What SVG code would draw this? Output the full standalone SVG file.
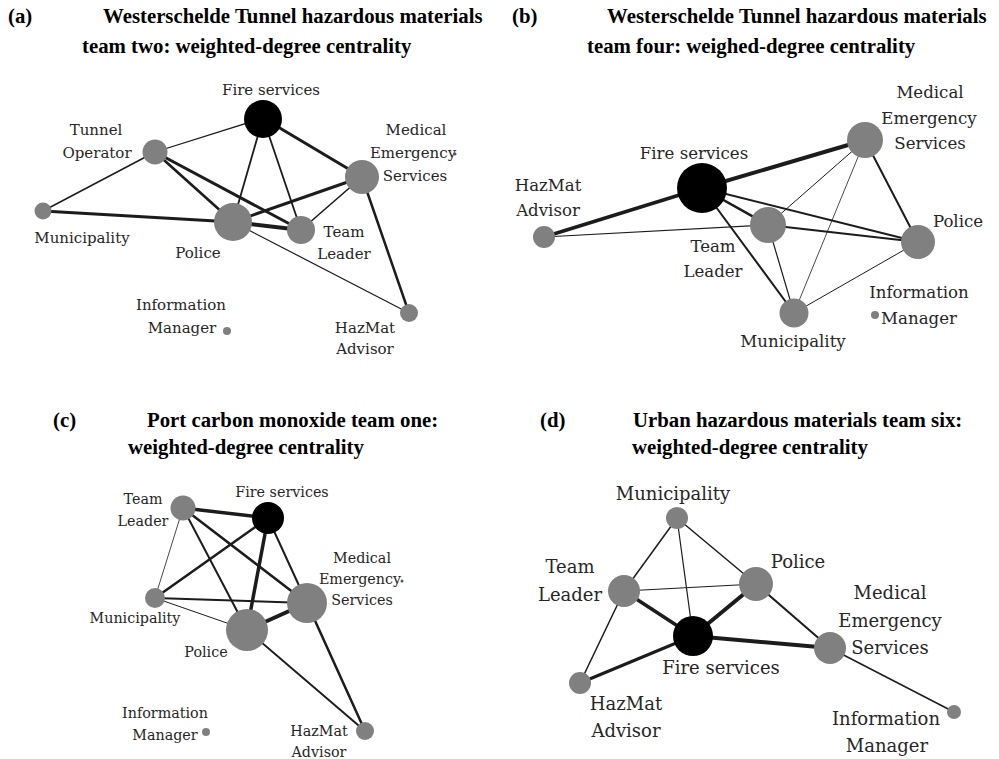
<svg xmlns="http://www.w3.org/2000/svg" width="999" height="759" viewBox="0 0 999 759">
  <style>
    .title { font-family: "Liberation Serif", "Times New Roman", serif; font-weight: bold; font-size: 20.8px; fill: #000; }
    .lbl { font-family: "DejaVu Serif", "Liberation Serif", serif; fill: #262626; text-anchor: middle; }
    .pa .lbl { font-size: 15px; }
    .pb .lbl { font-size: 16.6px; }
    .pc .lbl { font-size: 14.3px; }
    .pd .lbl { font-size: 18px; }
    .n { fill: #808080; }
    .fire { fill: #000; }
    .edges line { stroke: #1c1c1c; stroke-linecap: round; }
    .tick { fill: #555; }
  </style>
  <rect width="999" height="759" fill="#fff"/>

  <!-- Panel (a) -->
  <g id="panel-a" class="pa">
    <text class="title" x="8" y="23">(a)</text>
    <text class="title" x="103" y="23">Westerschelde Tunnel hazardous materials</text>
    <text class="title" x="82" y="53">team two: weighted-degree centrality</text>
    <g id="a-edges" class="edges">
      <line x1="263" y1="118" x2="155" y2="152" stroke-width="1.3"/>
      <line x1="263" y1="118" x2="233" y2="222" stroke-width="1.8"/>
      <line x1="263" y1="118" x2="301" y2="230" stroke-width="1.8"/>
      <line x1="263" y1="118" x2="362" y2="177" stroke-width="3"/>
      <line x1="155" y1="152" x2="43" y2="211" stroke-width="1.5"/>
      <line x1="155" y1="152" x2="233" y2="222" stroke-width="2.6"/>
      <line x1="155" y1="152" x2="301" y2="230" stroke-width="3"/>
      <line x1="43" y1="211" x2="233" y2="222" stroke-width="3"/>
      <line x1="233" y1="222" x2="301" y2="230" stroke-width="4"/>
      <line x1="233" y1="222" x2="362" y2="177" stroke-width="3"/>
      <line x1="301" y1="230" x2="362" y2="177" stroke-width="1.6"/>
      <line x1="362" y1="177" x2="409" y2="313" stroke-width="2.5"/>
      <line x1="233" y1="222" x2="409" y2="313" stroke-width="1.2"/>
    </g>
    <g id="a-fire"><circle class="fire" cx="263" cy="119" r="19"/><text class="lbl" x="271" y="95">Fire services</text></g>
    <g id="a-tunnel"><circle class="n" cx="155" cy="152" r="12.5"/><text class="lbl" x="96" y="135">Tunnel</text><text class="lbl" x="97" y="158">Operator</text></g>
    <g id="a-medical"><circle class="n" cx="362" cy="177" r="17"/><text class="lbl" x="416" y="135">Medical</text><text class="lbl" x="413" y="158">Emergency</text><text class="lbl" x="415" y="181">Services</text><circle class="tick" cx="455" cy="154" r="1.5"/></g>
    <g id="a-municipality"><circle class="n" cx="43" cy="211" r="8.5"/><text class="lbl" x="82" y="243">Municipality</text></g>
    <g id="a-police"><circle class="n" cx="233" cy="222" r="19"/><text class="lbl" x="198" y="258">Police</text></g>
    <g id="a-leader"><circle class="n" cx="301" cy="230" r="14"/><text class="lbl" x="344" y="237">Team</text><text class="lbl" x="344" y="259">Leader</text></g>
    <g id="a-info"><circle class="n" cx="227" cy="331" r="4"/><text class="lbl" x="181" y="310">Information</text><text class="lbl" x="182" y="333">Manager</text></g>
    <g id="a-hazmat"><circle class="n" cx="409" cy="313" r="9"/><text class="lbl" x="365" y="333">HazMat</text><text class="lbl" x="365" y="354">Advisor</text></g>
  </g>

  <!-- Panel (b) -->
  <g id="panel-b" class="pb">
    <text class="title" x="512" y="23">(b)</text>
    <text class="title" x="607" y="23">Westerschelde Tunnel hazardous materials</text>
    <text class="title" x="587" y="53">team four: weighed-degree centrality</text>
    <g id="b-edges" class="edges">
      <line x1="544" y1="237" x2="702" y2="188" stroke-width="3.5"/>
      <line x1="544" y1="237" x2="768" y2="225" stroke-width="1.2"/>
      <line x1="702" y1="188" x2="865" y2="140" stroke-width="4"/>
      <line x1="702" y1="188" x2="768" y2="225" stroke-width="2.5"/>
      <line x1="702" y1="188" x2="918" y2="242" stroke-width="2"/>
      <line x1="702" y1="188" x2="794" y2="313" stroke-width="2"/>
      <line x1="768" y1="225" x2="918" y2="242" stroke-width="2"/>
      <line x1="768" y1="225" x2="865" y2="140" stroke-width="1"/>
      <line x1="768" y1="225" x2="794" y2="313" stroke-width="1.2"/>
      <line x1="794" y1="313" x2="918" y2="242" stroke-width="1"/>
      <line x1="794" y1="313" x2="865" y2="140" stroke-width="0.8"/>
      <line x1="865" y1="140" x2="918" y2="242" stroke-width="2"/>
    </g>
    <g id="b-medical"><circle class="n" cx="865" cy="140" r="18"/><text class="lbl" x="930" y="98">Medical</text><text class="lbl" x="929" y="124">Emergency</text><text class="lbl" x="930" y="149">Services</text></g>
    <g id="b-fire"><circle class="fire" cx="702" cy="188" r="25"/><text class="lbl" x="694" y="159">Fire services</text></g>
    <g id="b-hazmat"><circle class="n" cx="544" cy="237" r="11"/><text class="lbl" x="548" y="191">HazMat</text><text class="lbl" x="548" y="216">Advisor</text></g>
    <g id="b-leader"><circle class="n" cx="768" cy="225" r="18"/><text class="lbl" x="713" y="252">Team</text><text class="lbl" x="713" y="277">Leader</text></g>
    <g id="b-police"><circle class="n" cx="918" cy="242" r="17"/><text class="lbl" x="958" y="227">Police</text></g>
    <g id="b-municipality"><circle class="n" cx="794" cy="313" r="14.5"/><text class="lbl" x="793" y="347">Municipality</text></g>
    <g id="b-info"><circle class="n" cx="875" cy="315" r="4"/><text class="lbl" x="919" y="298">Information</text><text class="lbl" x="919" y="324">Manager</text></g>
  </g>

  <!-- Panel (c) -->
  <g id="panel-c" class="pc">
    <text class="title" x="53" y="427">(c)</text>
    <text class="title" x="147" y="427">Port carbon monoxide team one:</text>
    <text class="title" x="128" y="454">weighted-degree centrality</text>
    <g id="c-edges" class="edges">
      <line x1="183" y1="508" x2="268" y2="518" stroke-width="3.5"/>
      <line x1="183" y1="508" x2="155" y2="598" stroke-width="0.8"/>
      <line x1="183" y1="508" x2="247" y2="630" stroke-width="2"/>
      <line x1="183" y1="508" x2="307" y2="603" stroke-width="2.5"/>
      <line x1="268" y1="518" x2="155" y2="598" stroke-width="2.5"/>
      <line x1="268" y1="518" x2="247" y2="630" stroke-width="3.5"/>
      <line x1="268" y1="518" x2="307" y2="603" stroke-width="2"/>
      <line x1="155" y1="598" x2="307" y2="603" stroke-width="2"/>
      <line x1="155" y1="598" x2="247" y2="630" stroke-width="1"/>
      <line x1="247" y1="630" x2="307" y2="603" stroke-width="4"/>
      <line x1="247" y1="630" x2="365" y2="731" stroke-width="2"/>
      <line x1="307" y1="603" x2="365" y2="731" stroke-width="2.5"/>
    </g>
    <g id="c-leader"><circle class="n" cx="183" cy="508" r="12.5"/><text class="lbl" x="143" y="504">Team</text><text class="lbl" x="143" y="526">Leader</text></g>
    <g id="c-fire"><circle class="fire" cx="268" cy="518" r="16"/><text class="lbl" x="282" y="497">Fire services</text></g>
    <g id="c-medical"><circle class="n" cx="307" cy="603" r="20"/><text class="lbl" x="362" y="563">Medical</text><text class="lbl" x="360" y="584">Emergency</text><text class="lbl" x="362" y="605">Services</text><circle class="tick" cx="402" cy="581" r="1.5"/></g>
    <g id="c-municipality"><circle class="n" cx="155" cy="598" r="10"/><text class="lbl" x="135" y="623">Municipality</text></g>
    <g id="c-police"><circle class="n" cx="247" cy="630" r="21"/><text class="lbl" x="206" y="657">Police</text></g>
    <g id="c-info"><circle class="n" cx="206" cy="732" r="4"/><text class="lbl" x="165" y="718">Information</text><text class="lbl" x="165" y="740">Manager</text></g>
    <g id="c-hazmat"><circle class="n" cx="365" cy="731" r="9"/><text class="lbl" x="319" y="736">HazMat</text><text class="lbl" x="319" y="757">Advisor</text></g>
  </g>

  <!-- Panel (d) -->
  <g id="panel-d" class="pd">
    <text class="title" x="540" y="427">(d)</text>
    <text class="title" x="633" y="427">Urban hazardous materials team six:</text>
    <text class="title" x="632" y="454">weighted-degree centrality</text>
    <g id="d-edges" class="edges">
      <line x1="677" y1="518" x2="624" y2="591" stroke-width="1.5"/>
      <line x1="677" y1="518" x2="693" y2="636" stroke-width="1.2"/>
      <line x1="677" y1="518" x2="756" y2="584" stroke-width="1.5"/>
      <line x1="624" y1="591" x2="756" y2="584" stroke-width="1.2"/>
      <line x1="624" y1="591" x2="693" y2="636" stroke-width="3.5"/>
      <line x1="624" y1="591" x2="580" y2="683" stroke-width="1.5"/>
      <line x1="756" y1="584" x2="693" y2="636" stroke-width="4"/>
      <line x1="756" y1="584" x2="830" y2="648" stroke-width="2"/>
      <line x1="693" y1="636" x2="830" y2="648" stroke-width="4"/>
      <line x1="693" y1="636" x2="580" y2="683" stroke-width="3"/>
      <line x1="830" y1="648" x2="954" y2="712" stroke-width="1.5"/>
    </g>
    <g id="d-municipality"><circle class="n" cx="677" cy="518" r="11"/><text class="lbl" x="673" y="500">Municipality</text></g>
    <g id="d-leader"><circle class="n" cx="624" cy="591" r="16"/><text class="lbl" x="570" y="573">Team</text><text class="lbl" x="570" y="601">Leader</text></g>
    <g id="d-police"><circle class="n" cx="756" cy="584" r="17"/><text class="lbl" x="798" y="568">Police</text></g>
    <g id="d-fire"><circle class="fire" cx="693" cy="636" r="20"/><text class="lbl" x="721" y="674">Fire services</text></g>
    <g id="d-medical"><circle class="n" cx="830" cy="648" r="16"/><text class="lbl" x="890" y="599">Medical</text><text class="lbl" x="890" y="627">Emergency</text><text class="lbl" x="890" y="654">Services</text></g>
    <g id="d-hazmat"><circle class="n" cx="580" cy="683" r="11"/><text class="lbl" x="626" y="710">HazMat</text><text class="lbl" x="626" y="737">Advisor</text></g>
    <g id="d-info"><circle class="n" cx="954" cy="712" r="7"/><text class="lbl" x="886" y="725">Information</text><text class="lbl" x="887" y="752">Manager</text></g>
  </g>
</svg>
